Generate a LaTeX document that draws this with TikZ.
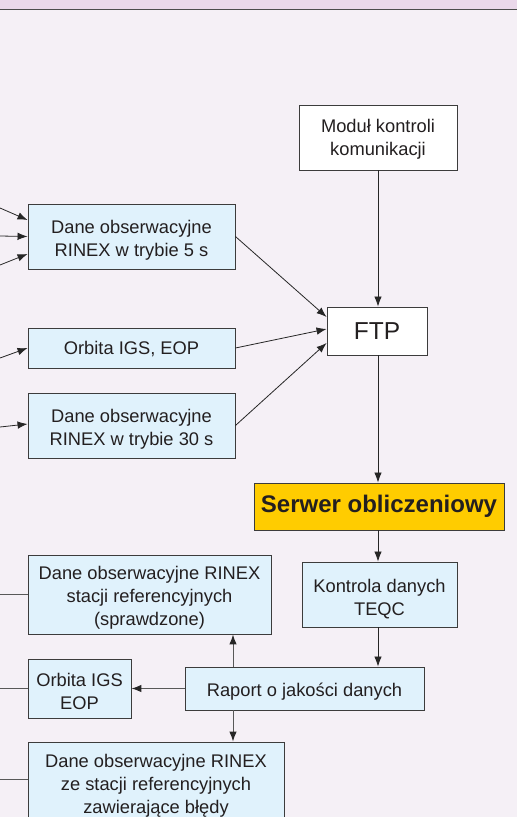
\documentclass[tikz,border=0pt]{standalone}
\usepackage{fontspec}
\setmainfont{Liberation Sans}
\usetikzlibrary{arrows.meta,calc}
\definecolor{bgbody}{HTML}{F5F0F6}
\definecolor{bghead}{HTML}{EAD8EA}
\definecolor{boxblue}{HTML}{E0F2FC}
\definecolor{boxyellow}{HTML}{FFCC00}
\definecolor{edge}{HTML}{3C3C3C}
\definecolor{txt}{HTML}{231F20}
\definecolor{lndark}{HTML}{262626}
\definecolor{lngray}{HTML}{585858}
\newcommand{\tup}[1]{\rule{0pt}{#1}}
\tikzset{
  bx/.style={draw=edge, line width=0.9pt, inner sep=0pt, align=center, text=txt,
    font=\fontsize{18.3}{23}\selectfont},
  bluebox/.style={bx, fill=boxblue},
  whitebox/.style={bx, fill=white},
  arr/.style={draw=lndark, line width=0.8pt, -{Latex[length=10pt,width=7.5pt]}},
  arrg/.style={draw=lngray, line width=1pt, -{Latex[length=10pt,width=7.5pt,color=lndark]}},
  ln/.style={draw=lngray, line width=1pt},
}
\begin{document}
\begin{tikzpicture}[x=1pt,y=-1pt]
\clip (0,0) rectangle (517,817);
\fill[bgbody] (0,0) rectangle (517,817);
\fill[bghead] (0,0) rectangle (517,9);
\draw[color=black!70, line width=1.4pt] (0,9.6) -- (517,9.6);

% nodes
\node[whitebox, minimum width=158pt, minimum height=65pt] (mod) at (378,137.5) {\tup{17.5pt}Moduł kontroli\\komunikacji};
\node[whitebox, minimum width=100pt, minimum height=48pt, font=\fontsize{24.5}{28}\selectfont] (ftp) at (377,331) {FTP};
\node[bluebox, minimum width=207pt, minimum height=65pt] (d5) at (131.5,236.5) {\tup{21.5pt}Dane obserwacyjne\\RINEX w trybie 5 s};
\node[bluebox, minimum width=207pt, minimum height=40pt] (orb) at (131.5,348) {\tup{16pt}Orbita IGS, EOP};
\node[bluebox, minimum width=207pt, minimum height=65pt] (d30) at (131.5,425.5) {\tup{21.5pt}Dane obserwacyjne\\RINEX w trybie 30 s};
\node[bx, fill=boxyellow, minimum width=250pt, minimum height=47pt, font=\fontsize{24}{28}\selectfont\bfseries] (srv) at (379,506.5) {Serwer obliczeniowy};
\node[bluebox, minimum width=155pt, minimum height=65pt] (teqc) at (379.5,594.5) {\tup{23pt}Kontrola danych\\TEQC};
\node[bluebox, minimum width=239pt, minimum height=43pt] (rap) at (304.5,688.5) {\tup{19pt}Raport o jakości danych};
\node[bluebox, minimum width=243pt, minimum height=79pt] (spr) at (149.5,594.5) {\tup{19pt}Dane obserwacyjne RINEX\\stacji referencyjnych\\(sprawdzone)};
\node[bluebox, minimum width=103pt, minimum height=59pt] (orb2) at (79.5,688.5) {\tup{19.5pt}Orbita IGS\\EOP};
\node[bluebox, minimum width=256pt, minimum height=82pt] (err) at (156,783) {\tup{17.8pt}Dane obserwacyjne RINEX\\ze stacji referencyjnych\\zawierające błędy};

% free ends
\coordinate (a1) at (0,208);
\coordinate (a2) at (0,236);
\coordinate (a3) at (0,265);
\coordinate (a4) at (0,358);
\coordinate (a5) at (0,427);
\coordinate (b1) at (0,594.5);
\coordinate (b2) at (0,688.5);
\coordinate (b3) at (0,779);
\coordinate (rx) at (233,0);

% incoming from the left
\draw[arr] (a1) -- ([yshift=16.5pt]d5.west);
\draw[arr] (a2) -- (d5.west);
\draw[arr] (a3) -- ([yshift=-17.5pt]d5.west);
\draw[arr] (a4) -- (orb.west);
\draw[arr] (a5) -- ([yshift=1.5pt]d30.west);

% to FTP
\draw[arr] (d5.east) -- ([yshift=14pt]ftp.west);
\draw[arr] (orb.east) -- ([yshift=2pt]ftp.west);
\draw[arr] (d30.east) -- ([yshift=-12pt]ftp.west);
\draw[arr] (mod.south) -- (mod.south |- ftp.north);
\draw[arr] (mod.south |- ftp.south) -- (mod.south |- srv.north);
\draw[arr] (mod.south |- srv.south) -- (mod.south |- teqc.north);
\draw[arr] (mod.south |- teqc.south) -- (mod.south |- rap.north);

% from the report
\draw[arrg] (rap.north -| rx) -- (spr.south -| rx);
\draw[arrg] (rap.west) -- (orb2.east);
\draw[arrg] (rap.south -| rx) -- (err.north -| rx);

% out to the left
\draw[ln] (spr.west) -- (b1);
\draw[ln] (orb2.west) -- (b2);
\draw[ln] (err.west |- b3) -- (b3);
\end{tikzpicture}
\end{document}
